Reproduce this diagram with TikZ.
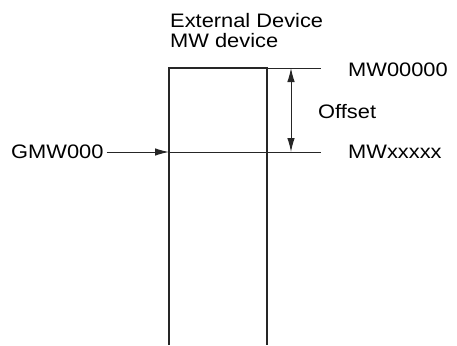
\documentclass[tikz,border=0pt]{standalone}
\usepackage{fontspec}
\setmainfont[FakeStretch=1.12]{Liberation Sans}
\usetikzlibrary{arrows.meta}
\tikzset{
  lbl/.style={inner sep=0pt,anchor=base west,font=\fontsize{19.5}{22}\selectfont},
  wall/.style={line width=2.2pt,color=black!85},
  lead/.style={line width=1pt,color=black!85},
  tip/.style={-{Latex[length=14pt,width=7.5pt]}}
}
\begin{document}
\begin{tikzpicture}[x=1pt,y=-1pt]
\useasboundingbox (0,0) rectangle (457,345);
\coordinate (tl) at (169,68);
\coordinate (tr) at (267,68);
\coordinate (bl) at (169,345);
\coordinate (br) at (267,345);
\coordinate (topend) at (321,68);
\coordinate (midl) at (169,152);
\coordinate (midend) at (321,152);
\coordinate (offtop) at (291,68);
\coordinate (offbot) at (291,152);
\node[lbl] (ext) at (170,28) {External Device};
\node[lbl] (mwdev) at (170,48) {MW device};
\node[lbl] (mw0) at (348,76) {MW00000};
\node[lbl] (off) at (318,118) {Offset};
\node[lbl] (mwx) at (348,158) {MWxxxxx};
\node[lbl] (gmw) at (11,158) {GMW000};
\draw[wall] (bl) -- (tl) -- (tr) -- (br);
\draw[lead] (tr) -- (topend);
\draw[lead] (midl) -- (midend);
\draw[lead,tip] (gmw.east) ++(3pt,0) coordinate (gs) (gs |- midl) -- (midl);
\draw[lead,{Latex[length=14pt,width=7.5pt]}-{Latex[length=14pt,width=7.5pt]}] (offtop) -- (offbot);
\end{tikzpicture}
\end{document}
